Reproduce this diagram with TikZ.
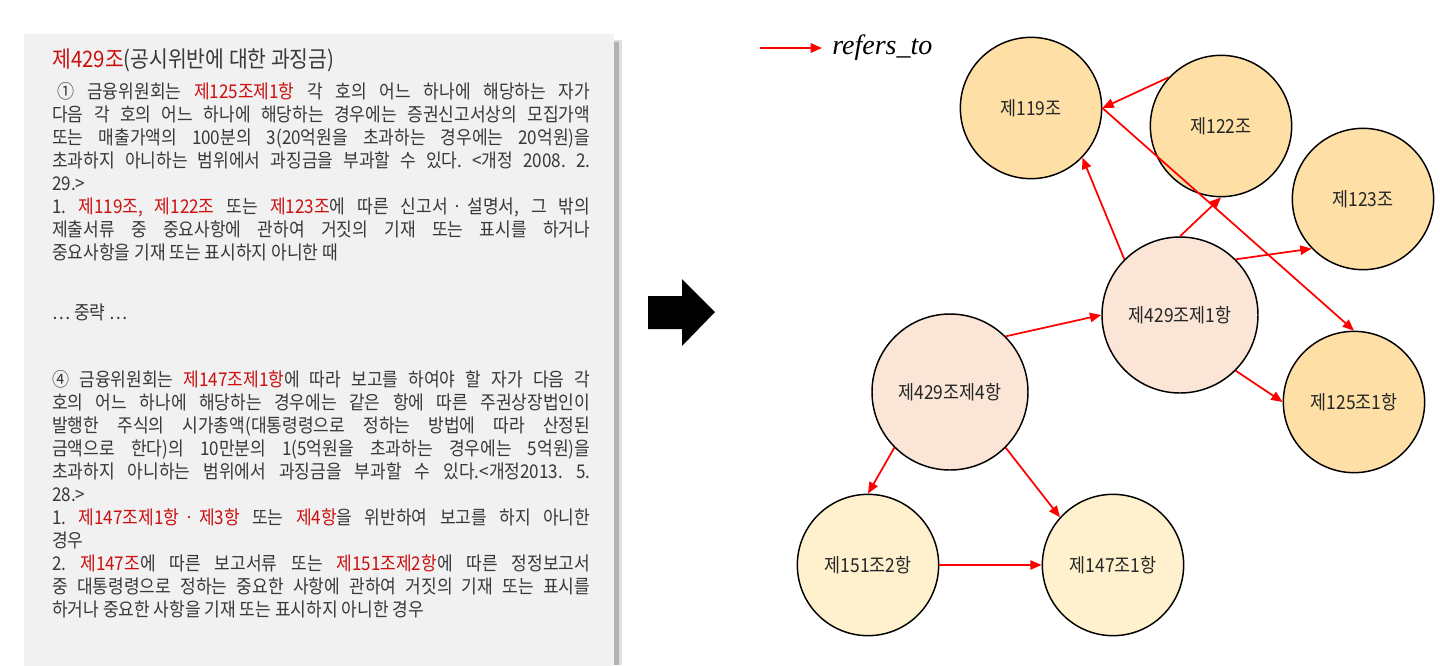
\documentclass[tikz,border=0pt]{standalone}
\usepackage{fontspec}
\setmainfont[FakeStretch=0.9]{Noto Sans CJK KR}
\newfontfamily\legendfont{Liberation Serif}
\usetikzlibrary{arrows.meta, positioning}
\definecolor{boxgray}{RGB}{241,241,241}
\definecolor{textgray}{RGB}{56,56,56}
\definecolor{lawred}{RGB}{204,16,16}
\definecolor{edgered}{RGB}{255,0,0}
\definecolor{artfill}{RGB}{254,223,166}
\definecolor{parafill}{RGB}{250,229,214}
\definecolor{subfill}{RGB}{255,241,206}
\newcommand{\lawref}[1]{\textcolor{lawred}{#1}}
\newcommand{\jline}[1]{\hbox to 403.5pt{#1}}
\newcommand{\mdot}{\kern1.5pt ㆍ\kern1.5pt}
\frenchspacing

\begin{document}
\begin{tikzpicture}[
  x=0.75pt, y=-0.75pt,
  lawtext/.style={anchor=base west, inner sep=0pt, text=textgray, font=\fontsize{14.2}{16}\selectfont},
  lawtitle/.style={lawtext, font=\fontsize{17}{19}\selectfont},
  artnode/.style={circle, draw=black, line width=1.1pt, fill=artfill, minimum size=106pt, inner sep=0pt, text=black!85, font=\fontsize{14.5}{16}\selectfont},
  paranode/.style={artnode, fill=parafill, minimum size=117pt},
  subnode/.style={artnode, fill=subfill},
  ref/.style={-{Triangle[length=8.5pt, width=7pt]}, draw=edgered, line width=1.3pt},
]
\useasboundingbox (0,0) rectangle (1440,665);

%% Law text box with shadow
\fill[black!12] (604,40) rectangle (622,665);
\fill[black!30] (604,42) rectangle (619,665);
\fill[boxgray] (24,34) rectangle (614,666);

\node[lawtitle] (t0) at (52,67) {\lawref{제429조}(공시위반에 대한 과징금)};
\node[lawtext] (l1) at (52,98)  {\jline{\hspace*{4pt}① 금융위원회는 \lawref{제125조제1항} 각 호의 어느 하나에 해당하는 자가}};
\node[lawtext] (l2) at (52,121) {\jline{다음 각 호의 어느 하나에 해당하는 경우에는 증권신고서상의 모집가액}};
\node[lawtext] (l3) at (52,144) {\jline{또는 매출가액의 100분의 3(20억원을 초과하는 경우에는 20억원)을}};
\node[lawtext] (l4) at (52,167) {\jline{초과하지 아니하는 범위에서 과징금을 부과할 수 있다. <개정 2008. 2.}};
\node[lawtext] (l5) at (52,190) {29.>};
\node[lawtext] (l6) at (52,213) {\jline{1. \lawref{제119조, 제122조} 또는 \lawref{제123조}에 따른 신고서\mdot 설명서, 그 밖의}};
\node[lawtext] (l7) at (52,236) {\jline{제출서류 중 중요사항에 관하여 거짓의 기재 또는 표시를 하거나}};
\node[lawtext] (l8) at (52,259) {중요사항을 기재 또는 표시하지 아니한 때};
\node[lawtext] (l9) at (52,319) {… 중략 …};

\node[lawtext] (m1)  at (52,386) {\jline{④ 금융위원회는 \lawref{제147조제1항}에 따라 보고를 하여야 할 자가 다음 각}};
\node[lawtext] (m2)  at (52,409) {\jline{호의 어느 하나에 해당하는 경우에는 같은 항에 따른 주권상장법인이}};
\node[lawtext] (m3)  at (52,432) {\jline{발행한 주식의 시가총액(대통령령으로 정하는 방법에 따라 산정된}};
\node[lawtext] (m4)  at (52,455) {\jline{금액으로 한다)의 10만분의 1(5억원을 초과하는 경우에는 5억원)을}};
\node[lawtext] (m5)  at (52,478) {\jline{초과하지 아니하는 범위에서 과징금을 부과할 수 있다.<개정2013. 5.}};
\node[lawtext] (m6)  at (52,501) {28.>};
\node[lawtext] (m7)  at (52,524) {\jline{1. \lawref{제147조제1항\mdot 제3항} 또는 \lawref{제4항}을 위반하여 보고를 하지 아니한}};
\node[lawtext] (m8)  at (52,547) {경우};
\node[lawtext] (m9)  at (52,570) {\jline{2. \lawref{제147조}에 따른 보고서류 또는 \lawref{제151조제2항}에 따른 정정보고서}};
\node[lawtext] (m10) at (52,593) {\jline{중 대통령령으로 정하는 중요한 사항에 관하여 거짓의 기재 또는 표시를}};
\node[lawtext] (m11) at (52,616) {하거나 중요한 사항을 기재 또는 표시하지 아니한 경우};

%% Big arrow between text and graph
\fill[black] (648,296) -- (682,296) -- (682,279) -- (715,312) -- (682,346) -- (682,329) -- (648,329) -- cycle;

%% Legend
\coordinate (lgs) at (760,48);
\coordinate (lge) at (822,48);
\draw[ref] (lgs) -- (lge);
\node[anchor=west, inner sep=0pt, font=\legendfont\fontsize{21}{24}\selectfont] (lgtext) at (832,48) {\textit{refers\_to}};

%% Article nodes
\node[artnode] (n119) at (1031,108) {제119조};
\node[artnode] (n122) at (1221,126) {제122조};
\node[artnode] (n123) at (1363,199) {제123조};
\node[artnode] (n125) at (1354,402) {제125조1항};
\node[paranode] (n4291) at (1180,315) {제429조제1항};
\node[paranode] (n4294) at (950,392) {제429조제4항};
\node[subnode] (n151) at (868,565) {제151조2항};
\node[subnode] (n147) at (1113,565) {제147조1항};

%% References
\draw[ref] (n122.137) -- (n119.0);
\draw[ref] (n119.0) -- (n125.90);
\draw[ref] (n4291.135) -- (n119.316);
\draw[ref] (n4291.90) -- (n122.270);
\draw[ref] (n4291.45) -- (n123.224);
\draw[ref] (n4291.315) -- (n125.180);
\draw[ref] (n4294.45) -- (n4291.180);
\draw[ref] (n4294.225) -- (n151.90);
\draw[ref] (n4294.315) -- (n147.138);
\draw[ref] (n151.0) -- (n147.180);

\end{tikzpicture}
\end{document}
